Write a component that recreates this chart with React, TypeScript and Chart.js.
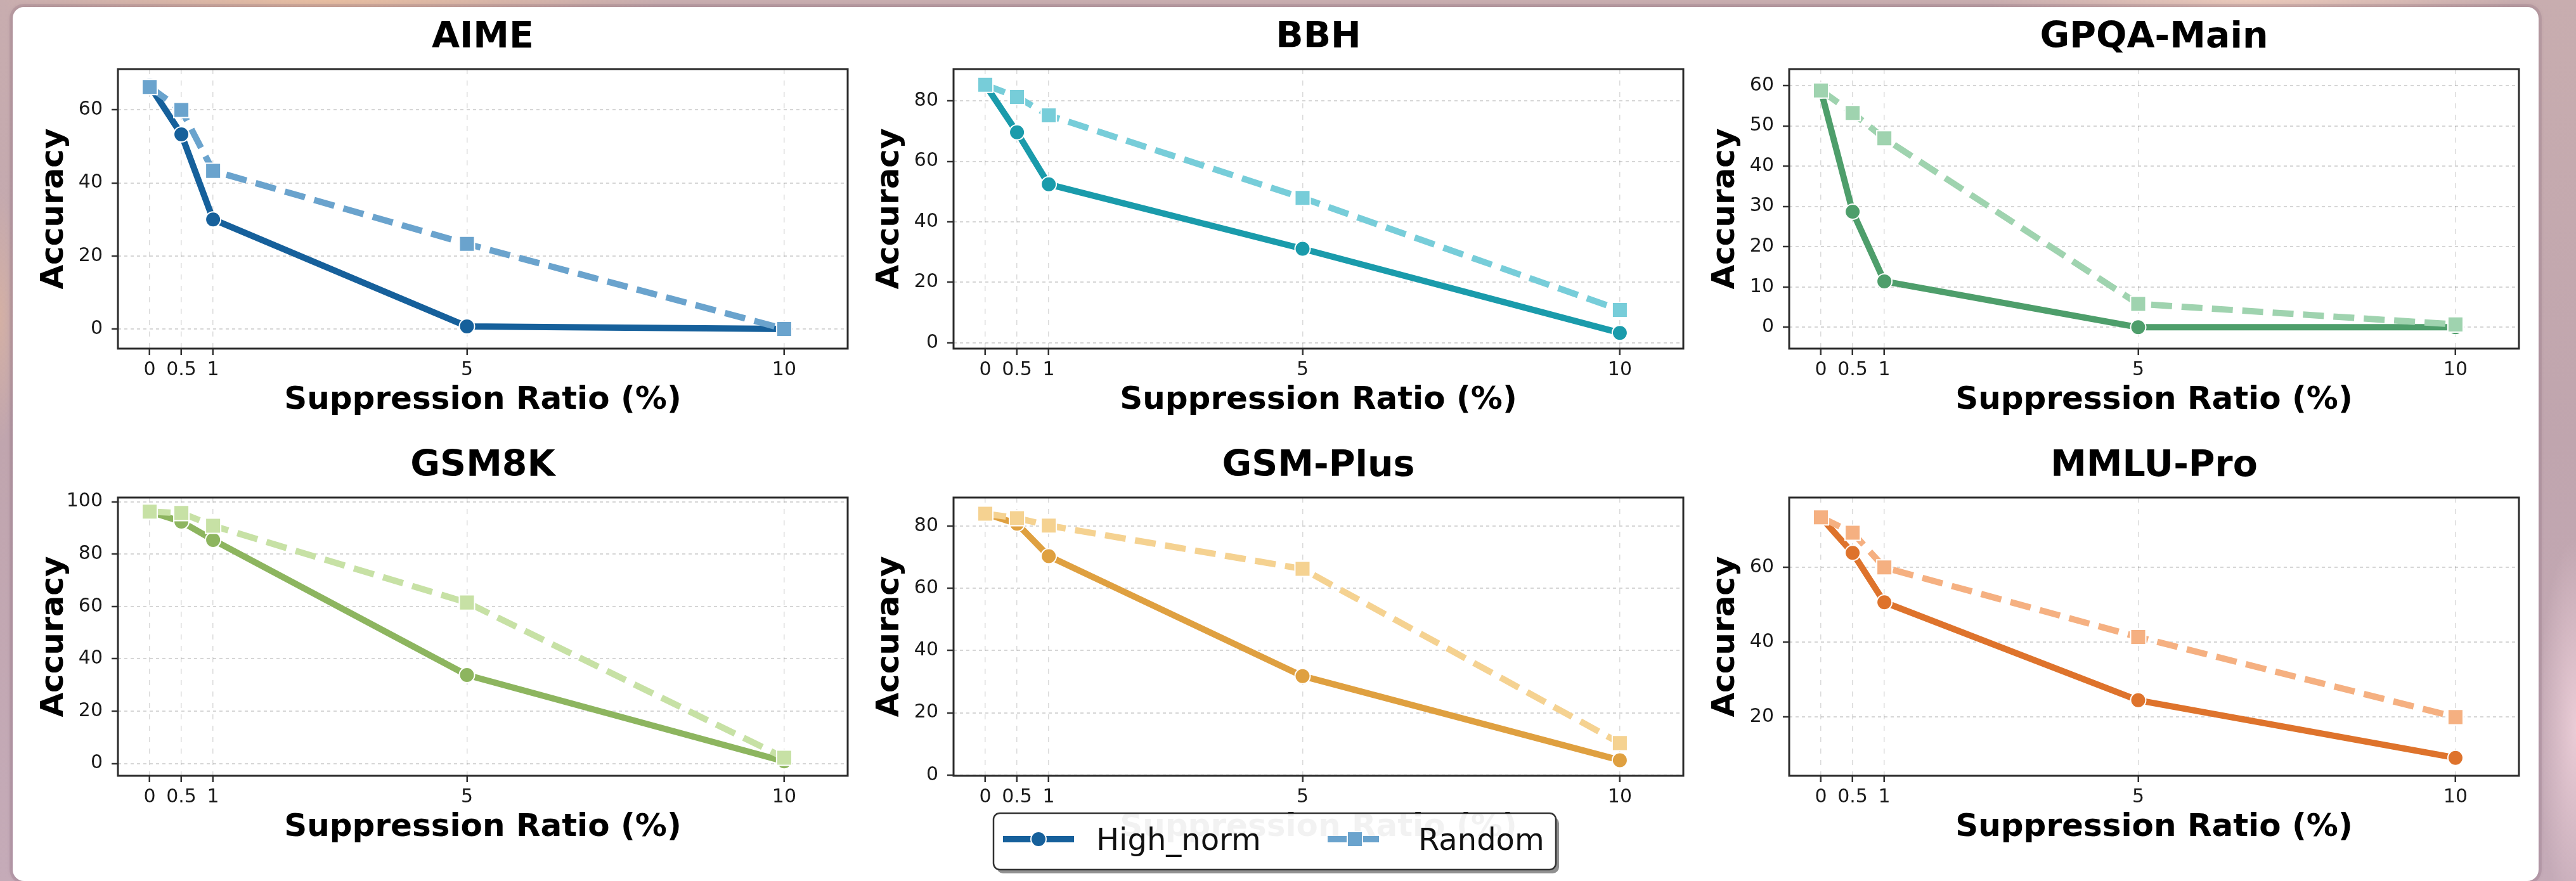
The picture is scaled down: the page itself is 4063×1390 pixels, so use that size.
import React, { useEffect, useRef } from "react";
import { Chart, registerables } from "chart.js";

Chart.register(...registerables);
Chart.defaults.font.family = "'DejaVu Sans', 'Liberation Sans', sans-serif";

// ---------------- data ----------------
const xValues = [0, 0.5, 1, 5, 10];
const xTickLabels = ["0", "0.5", "1", "5", "10"];
const seriesLabels = ["High_norm", "Random"];
const panelTitles = ["AIME", "BBH", "GPQA-Main", "GSM8K", "GSM-Plus", "MMLU-Pro"];

const aimeHighNorm = [66.7, 53.3, 30.0, 0.7, 0.0];
const aimeRandom = [66.3, 60.0, 43.3, 23.3, 0.0];
const bbhHighNorm = [85.3, 69.6, 52.4, 31.1, 3.3];
const bbhRandom = [85.3, 81.3, 75.2, 47.9, 10.9];
const gpqaHighNorm = [58.8, 28.7, 11.4, 0.0, 0.0];
const gpqaRandom = [58.8, 53.2, 46.9, 5.8, 0.7];
const gsm8kHighNorm = [96.2, 92.4, 85.4, 33.8, 0.8];
const gsm8kRandom = [96.2, 95.7, 90.8, 61.5, 2.2];
const gsmPlusHighNorm = [83.9, 80.7, 70.3, 31.8, 4.8];
const gsmPlusRandom = [83.9, 82.5, 80.1, 66.2, 10.3];
const mmluProHighNorm = [73.4, 63.9, 50.7, 24.5, 9.1];
const mmluProRandom = [73.4, 69.3, 60.0, 41.4, 20.0];

const aimeYTicks = [0, 20, 40, 60];
const bbhYTicks = [0, 20, 40, 60, 80];
const gpqaYTicks = [0, 10, 20, 30, 40, 50, 60];
const gsm8kYTicks = [0, 20, 40, 60, 80, 100];
const gsmPlusYTicks = [0, 20, 40, 60, 80];
const mmluProYTicks = [20, 40, 60];

const yMins = [-5.4, -1.9, -5.3, -4.7, -0.2, 4.3];
const yMaxs = [71.2, 90.5, 64.1, 101.6, 89.1, 78.7];

const highSeries = [aimeHighNorm, bbhHighNorm, gpqaHighNorm, gsm8kHighNorm, gsmPlusHighNorm, mmluProHighNorm];
const randomSeries = [aimeRandom, bbhRandom, gpqaRandom, gsm8kRandom, gsmPlusRandom, mmluProRandom];
const yTickSets = [aimeYTicks, bbhYTicks, gpqaYTicks, gsm8kYTicks, gsmPlusYTicks, mmluProYTicks];

// ---------------- styles / layout ----------------
const highColors = ["#16609b", "#1a9bab", "#4e9e6b", "#8db55f", "#dfa040", "#de732c"];
const randomColors = ["#6aa3cd", "#77cdd9", "#9fd3af", "#c7e1a5", "#f5d291", "#f5b081"];

const COL_LEFT = [186, 1504, 2822];
const ROW_TOP = [109, 785];
const PLOT_H = [441, 439];
const PLOT_W = 1160;
const Y_AXIS_W = 140;
const X_AXIS_H = 120;
const TITLE_H = 100;
const RIGHT_PAD = 10;
const LEGEND_EXTRA = 50;
const LINE_W = 10;

const LEGEND_BOX = { x: 1567, y: 1283, w: 887, h: 89, r: 10 };
const LEGEND_ROW_Y = 1324;
const LEGEND_TEXT_Y = 1341;

const framePlugin = {
  id: "mplFrame",
  afterDatasetsDraw(chart: any) {
    const { ctx, chartArea: a } = chart;
    ctx.save();
    ctx.strokeStyle = "#2b2b2b";
    ctx.lineWidth = 3;
    ctx.strokeRect(a.left, a.top, a.right - a.left, a.bottom - a.top);
    ctx.restore();
  },
};

function makeLegendPlugin(originX: number, originY: number) {
  return {
    id: "mplLegend",
    afterDraw(chart: any) {
      const ctx = chart.ctx as CanvasRenderingContext2D;
      const bx = LEGEND_BOX.x - originX;
      const by = LEGEND_BOX.y - originY;
      const { w, h, r } = LEGEND_BOX;
      ctx.save();
      // shadow, outside the box only
      ctx.save();
      ctx.beginPath();
      ctx.rect(0, 0, chart.width, chart.height);
      ctx.roundRect(bx, by, w, h, r);
      ctx.clip("evenodd");
      ctx.beginPath();
      ctx.roundRect(bx + 5, by + 6, w, h, r);
      ctx.fillStyle = "rgba(70,70,70,0.6)";
      ctx.fill();
      ctx.restore();
      // box
      ctx.beginPath();
      ctx.roundRect(bx, by, w, h, r);
      ctx.fillStyle = "rgba(255,255,255,0.95)";
      ctx.fill();
      ctx.lineWidth = 2.5;
      ctx.strokeStyle = "#333";
      ctx.stroke();

      const ly = LEGEND_ROW_Y - originY;
      // High_norm sample
      ctx.lineCap = "butt";
      ctx.lineWidth = LINE_W;
      ctx.strokeStyle = highColors[0];
      ctx.setLineDash([]);
      ctx.beginPath();
      ctx.moveTo(1582 - originX, ly);
      ctx.lineTo(1694 - originX, ly);
      ctx.stroke();
      ctx.beginPath();
      ctx.arc(1638 - originX, ly, 12, 0, Math.PI * 2);
      ctx.fillStyle = highColors[0];
      ctx.fill();
      ctx.lineWidth = 2;
      ctx.strokeStyle = "#fff";
      ctx.stroke();
      // Random sample
      ctx.lineWidth = LINE_W;
      ctx.strokeStyle = randomColors[0];
      ctx.setLineDash([33, 15]);
      ctx.beginPath();
      ctx.moveTo(2094 - originX, ly);
      ctx.lineTo(2180 - originX, ly);
      ctx.stroke();
      ctx.setLineDash([]);
      const s = 12;
      ctx.beginPath();
      ctx.rect(2137 - originX - s, ly - s, 2 * s, 2 * s);
      ctx.fillStyle = randomColors[0];
      ctx.fill();
      ctx.lineWidth = 2;
      ctx.strokeStyle = "#fff";
      ctx.stroke();
      // texts
      ctx.fillStyle = "#111";
      ctx.font = "48px 'DejaVu Sans', sans-serif";
      ctx.textBaseline = "alphabetic";
      ctx.textAlign = "left";
      ctx.fillText(seriesLabels[0], 1729 - originX, LEGEND_TEXT_Y - originY);
      ctx.fillText(seriesLabels[1], 2237 - originX, LEGEND_TEXT_Y - originY);
      ctx.restore();
    },
  };
}

function buildConfig(index: number, hasLegend: boolean, originX: number, originY: number) {
  const high = highSeries[index];
  const rand = randomSeries[index];
  const yTicks = yTickSets[index];
  const plugins: any[] = [framePlugin];
  if (hasLegend) plugins.push(makeLegendPlugin(originX, originY));
  return {
    type: "line",
    data: {
      datasets: [
        {
          label: seriesLabels[0],
          data: xValues.map((x, i) => ({ x, y: high[i] })),
          borderColor: highColors[index],
          backgroundColor: highColors[index],
          borderWidth: LINE_W,
          borderCapStyle: "butt",
          borderJoinStyle: "round",
          tension: 0,
          pointStyle: "circle",
          pointRadius: 12,
          pointBackgroundColor: highColors[index],
          pointBorderColor: "#ffffff",
          pointBorderWidth: 2,
          order: 2,
        },
        {
          label: seriesLabels[1],
          data: xValues.map((x, i) => ({ x, y: rand[i] })),
          borderColor: randomColors[index],
          backgroundColor: randomColors[index],
          borderWidth: LINE_W,
          borderDash: [33, 15],
          borderCapStyle: "butt",
          borderJoinStyle: "round",
          tension: 0,
          pointStyle: "rect",
          pointRadius: 17,
          pointBackgroundColor: randomColors[index],
          pointBorderColor: "#ffffff",
          pointBorderWidth: 2,
          order: 1,
        },
      ],
    },
    options: {
      responsive: false,
      animation: false,
      devicePixelRatio: 1,
      events: [],
      layout: { padding: { left: 0, top: 0, right: RIGHT_PAD, bottom: hasLegend ? LEGEND_EXTRA : 0 } },
      plugins: {
        legend: { display: false },
        tooltip: { enabled: false },
        title: {
          display: true,
          text: panelTitles[index],
          fullSize: false,
          color: "#000",
          font: { size: 57, weight: "bold", lineHeight: 1.2 },
          padding: { top: 16.8, bottom: 14.8 },
        },
      },
      scales: {
        x: {
          type: "linear",
          min: -0.5,
          max: 11,
          afterBuildTicks: (axis: any) => {
            axis.ticks = xValues.map((v) => ({ value: v }));
          },
          afterFit: (axis: any) => {
            axis.height = X_AXIS_H;
          },
          ticks: {
            autoSkip: false,
            maxRotation: 0,
            minRotation: 0,
            padding: 6.5,
            color: "#1a1a1a",
            font: { size: 30 },
            callback: (v: any) => {
              const k = xValues.indexOf(Number(v));
              return k >= 0 ? xTickLabels[k] : "";
            },
          },
          grid: {
            color: "rgba(0,0,0,0.14)",
            lineWidth: 1.5,
            drawTicks: true,
            tickLength: 10,
            tickColor: "#333",
            tickWidth: 2.5,
          },
          border: { display: false, dash: [8, 10] },
          title: {
            display: true,
            text: "Suppression Ratio (%)",
            color: "#000",
            font: { size: 50, weight: "bold", lineHeight: 1.2 },
            padding: { top: 0, bottom: 8.3 },
          },
        },
        y: {
          type: "linear",
          min: yMins[index],
          max: yMaxs[index],
          afterBuildTicks: (axis: any) => {
            axis.ticks = yTicks.map((v) => ({ value: v }));
          },
          afterFit: (axis: any) => {
            axis.width = Y_AXIS_W;
          },
          ticks: {
            autoSkip: false,
            padding: 14,
            color: "#1a1a1a",
            font: { size: 30 },
            callback: (v: any) => String(v),
          },
          grid: {
            color: "rgba(0,0,0,0.16)",
            lineWidth: 2,
            drawTicks: true,
            tickLength: 10,
            tickColor: "#333",
            tickWidth: 2.5,
          },
          border: { display: false, dash: [5, 5] },
          title: {
            display: true,
            text: "Accuracy",
            color: "#000",
            font: { size: 50, weight: "bold", lineHeight: 1.2 },
            padding: { top: 10, bottom: 0 },
          },
        },
      },
    },
    plugins,
  };
}

function LinePanel({ index }: { index: number }) {
  const ref = useRef<HTMLCanvasElement | null>(null);
  const col = index % 3;
  const row = Math.floor(index / 3);
  const hasLegend = index === 4;
  const left = COL_LEFT[col] - Y_AXIS_W;
  const top = ROW_TOP[row] - TITLE_H;
  const width = Y_AXIS_W + PLOT_W + RIGHT_PAD;
  const height = TITLE_H + PLOT_H[row] + X_AXIS_H + (hasLegend ? LEGEND_EXTRA : 0);

  useEffect(() => {
    if (!ref.current) return;
    const chart = new Chart(ref.current, buildConfig(index, hasLegend, left, top) as any);
    return () => chart.destroy();
  }, [index]);

  return (
    <canvas
      ref={ref}
      width={width}
      height={height}
      style={{ position: "absolute", left, top, width, height, display: "block" }}
    />
  );
}

const BACKGROUND = [
  "radial-gradient(ellipse 520px 60px at 520px 0px, rgba(236,192,158,0.85), rgba(236,192,158,0) 100%)",
  "radial-gradient(ellipse 420px 50px at 3550px 0px, rgba(240,206,188,0.85), rgba(240,206,188,0) 100%)",
  "radial-gradient(ellipse 60px 300px at 4063px 1150px, rgba(238,208,218,0.9), rgba(238,208,218,0) 100%)",
  "radial-gradient(ellipse 30px 200px at 0px 500px, rgba(220,180,160,0.7), rgba(220,180,160,0) 100%)",
  "linear-gradient(180deg, #c8adaf 0%, #c0a5ae 50%, #c5abb8 100%)",
].join(", ");

export default function App() {
  useEffect(() => {
    document.body.style.margin = "0";
    document.body.style.overflow = "hidden";
  }, []);
  return (
    <div
      style={{
        position: "absolute",
        left: 0,
        top: 0,
        width: 4063,
        height: 1390,
        overflow: "hidden",
        background: BACKGROUND,
      }}
    >
      <div
        style={{
          position: "absolute",
          left: 20,
          top: 11,
          width: 3984,
          height: 1379,
          background: "#ffffff",
          borderRadius: 18,
          boxShadow: "0 0 0 5px rgba(130,95,115,0.18), 0 0 8px rgba(90,60,80,0.25)",
        }}
      />
      {panelTitles.map((t, i) => (
        <LinePanel key={t} index={i} />
      ))}
    </div>
  );
}
